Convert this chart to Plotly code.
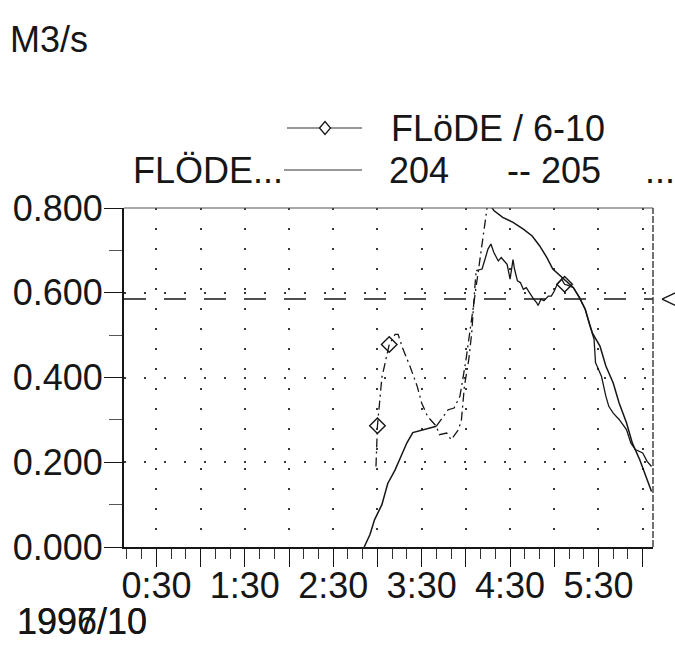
import pandas as pd
import plotly.graph_objects as go

DAY = "1996-10-06"

# Flow, series 204 (m3/s)
t_204 = ["2:51", "2:55", "2:58", "3:03", "3:07", "3:12", "3:16", "3:20", "3:24", "3:31",
         "3:40", "3:45", "3:48", "3:52", "3:56", "4:00", "4:03", "4:06", "4:10", "4:14",
         "4:15", "4:19", "4:25", "4:32", "4:39", "4:45", "4:50", "4:55", "4:59", "5:04",
         "5:08", "5:13", "5:17", "5:21", "5:24", "5:26", "5:31", "5:35", "5:40", "5:44",
         "5:49", "5:53", "5:58", "6:02", "6:06"]
q_204 = [0.000, 0.030, 0.064, 0.100, 0.150, 0.182, 0.214, 0.246, 0.270, 0.277,
         0.285, 0.308, 0.324, 0.328, 0.356, 0.440, 0.510, 0.590, 0.690, 0.800,
         0.815, 0.794, 0.778, 0.766, 0.750, 0.734, 0.711, 0.683, 0.656, 0.640,
         0.628, 0.612, 0.589, 0.561, 0.525, 0.504, 0.474, 0.427, 0.387, 0.340,
         0.293, 0.245, 0.206, 0.166, 0.131]

# Flow, series "FLöDE / 6-10" (m3/s)
t_610 = ["2:59", "3:00", "3:03", "3:08", "3:12", "3:14", "3:17", "3:22", "3:27", "3:30",
         "3:34", "3:40", "3:42", "3:47", "3:50", "3:55", "3:57", "3:59", "4:02", "4:04",
         "4:06", "4:07", "4:11", "4:13", "4:15", "4:17", "4:19", "4:22", "4:24", "4:26",
         "4:28", "4:30", "4:32", "4:33", "4:35", "4:37", "4:39", "4:41", "4:43", "4:46",
         "4:48", "4:49", "4:51", "4:53", "4:56", "4:58", "5:00", "5:02", "5:05", "5:07",
         "5:09", "5:13", "5:17", "5:21", "5:24", "5:26", "5:27", "5:28", "5:32", "5:35",
         "5:37", "5:40", "5:44", "5:49", "5:52", "5:55", "6:00", "6:03", "6:06"]
q_610 = [0.190, 0.286, 0.400, 0.478, 0.502, 0.502, 0.470, 0.427, 0.379, 0.340,
         0.308, 0.285, 0.265, 0.269, 0.253, 0.277, 0.300, 0.379, 0.443, 0.506,
         0.608, 0.652, 0.656, 0.679, 0.703, 0.715, 0.695, 0.675, 0.683, 0.675,
         0.667, 0.632, 0.678, 0.656, 0.628, 0.624, 0.608, 0.612, 0.600, 0.585,
         0.577, 0.570, 0.585, 0.581, 0.592, 0.592, 0.604, 0.620, 0.632, 0.620,
         0.618, 0.612, 0.589, 0.561, 0.525, 0.504, 0.490, 0.435, 0.403, 0.356,
         0.332, 0.316, 0.301, 0.277, 0.245, 0.230, 0.222, 0.202, 0.190]

# Samples of the 6-10 series drawn with a diamond
t_marks = ["3:00", "3:08", "5:07"]

# Limit flow (dashed line with arrow at the right)
q_limit = 0.585

# Axes
y_ticks = [0.0, 0.2, 0.4, 0.6, 0.8]
y_labels = ["0.000", "0.200", "0.400", "0.600", "0.800"]
x_ticks = ["0:30", "1:00", "1:30", "2:00", "2:30", "3:00", "3:30",
           "4:00", "4:30", "5:00", "5:30", "6:00"]
x_labels = ["0:30", "", "1:30", "", "2:30", "", "3:30", "", "4:30", "", "5:30", ""]
x_range = ["0:08", "6:07"]
y_range = [0.0, 0.8]

# Line-style breaks along each series
dash_end_610 = "4:07"
dash_span_204 = ("3:40", "4:15")

W, H = 675, 645
ML, MR, MT, MB = 124, 22, 208, 98
PW, PH = W - ML - MR, H - MT - MB

FONT = "Liberation Sans, Arial, sans-serif"
INK = "#161616"
FS = 36


def ts(t):
    h, m = t.split(":")
    return pd.Timestamp(f"{DAY} {int(h):02d}:{m}")


def part(times, vals, start=None, end=None):
    xs, ys = [], []
    for t, v in zip(times, vals):
        d = ts(t)
        if (start is None or d >= ts(start)) and (end is None or d <= ts(end)):
            xs.append(d)
            ys.append(v)
    return xs, ys


def px(x):
    return (x - ML) / PW


def py(y):
    return (H - MB - y) / PH


fig = go.Figure()

SOLID = dict(color=INK, width=1.5)
DASHDOT = dict(color=INK, width=1.3, dash="9px,4px,2px,4px")

# series 204
x, y = part(t_204, q_204, end=dash_span_204[0])
fig.add_trace(go.Scatter(x=x, y=y, mode="lines", line=SOLID, name="204"))
x, y = part(t_204, q_204, start=dash_span_204[0], end=dash_span_204[1])
fig.add_trace(go.Scatter(x=x, y=y, mode="lines", line=DASHDOT, name="204"))
x, y = part(t_204, q_204, start=dash_span_204[1])
fig.add_trace(go.Scatter(x=x, y=y, mode="lines", line=SOLID, name="204"))

# series 6-10
x, y = part(t_610, q_610, end=dash_end_610)
fig.add_trace(go.Scatter(x=x, y=y, mode="lines", line=DASHDOT, name="FLöDE / 6-10"))
x, y = part(t_610, q_610, start=dash_end_610)
fig.add_trace(go.Scatter(x=x, y=y, mode="lines", line=dict(color=INK, width=1.3),
                         name="FLöDE / 6-10"))

lookup = dict(zip(t_610, q_610))
fig.add_trace(go.Scatter(
    x=[ts(t) for t in t_marks], y=[lookup[t] for t in t_marks], mode="markers",
    marker=dict(symbol="diamond-open", size=12, color=INK, line=dict(width=1.4)),
    name="FLöDE / 6-10"))

shapes = []
# limit line
shapes.append(dict(type="line", xref="paper", yref="y", x0=0, x1=1, y0=q_limit, y1=q_limit,
                   line=dict(color=INK, width=1.5, dash="22px,18px"), layer="below"))
# arrow head for the limit, outside the right border
lp = q_limit / (y_range[1] - y_range[0])
dy = 8.5 / PH
shapes.append(dict(type="path", xref="paper", yref="paper",
                   path=f"M {px(662)},{lp} L {px(680)},{lp + dy} M {px(662)},{lp} L {px(680)},{lp - dy}",
                   line=dict(color=INK, width=1.3)))
# top and right frame
shapes.append(dict(type="line", xref="paper", yref="paper", x0=0, x1=1, y0=1, y1=1,
                   line=dict(color="#555", width=1.2)))
shapes.append(dict(type="line", xref="paper", yref="paper", x0=1, x1=1, y0=0, y1=1,
                   line=dict(color="#444", width=1.5, dash="7px,2px")))

# legend keys
r1, r2 = 128, 170
shapes.append(dict(type="line", xref="paper", yref="paper", x0=px(287), x1=px(362),
                   y0=py(r1), y1=py(r1), line=dict(color="#333", width=1.2)))
cx, hw, hh = px(325), 5.5 / PW, 6.5 / PH
shapes.append(dict(type="path", xref="paper", yref="paper",
                   path=f"M {cx - hw},{py(r1)} L {cx},{py(r1) + hh} L {cx + hw},{py(r1)} L {cx},{py(r1) - hh} Z",
                   fillcolor="white", line=dict(color=INK, width=1.3)))
shapes.append(dict(type="line", xref="paper", yref="paper", x0=px(284), x1=px(362),
                   y0=py(r2), y1=py(r2), line=dict(color="#333", width=1.2)))

ann = []


def text(s, x, y, anchor="left"):
    ann.append(dict(text=s, xref="paper", yref="paper", x=px(x), y=py(y),
                    xanchor=anchor, yanchor="middle", showarrow=False, borderpad=0,
                    font=dict(family=FONT, size=FS, color=INK)))


text("M3/s", 9, 40)
text("FLöDE / 6-10", 390, r1)
text("FLÖDE...", 284, r2, anchor="right")
text("204", 388, r2)
text("-- 205", 506, r2)
text("...", 644, r2)
# date line, year printed twice over itself
text("1996/10", 16, 621)
text("1997/10", 16, 621)

fig.update_layout(
    width=W, height=H, margin=dict(l=ML, r=MR, t=MT, b=MB, pad=0),
    paper_bgcolor="white", plot_bgcolor="white", showlegend=False,
    font=dict(family=FONT, size=FS, color=INK),
    shapes=shapes, annotations=ann,
    xaxis=dict(
        type="date", range=[ts(x_range[0]), ts(x_range[1])],
        tickmode="array", tickvals=[ts(t) for t in x_ticks], ticktext=x_labels,
        ticks="outside", ticklen=18, tickwidth=1.4, tickcolor=INK,
        ticklabelstandoff=-12,
        showline=True, linecolor=INK, linewidth=1.5,
        showgrid=True, gridcolor="#3a3a3a", gridwidth=1.5, griddash="2px,18px",
        zeroline=False, tickfont=dict(size=FS),
        minor=dict(dtick=600000, tick0=ts("0:00"), ticks="outside", ticklen=10,
                   tickwidth=1.2, tickcolor="#333", showgrid=False),
    ),
    yaxis=dict(
        range=y_range, tickmode="array", tickvals=y_ticks, ticktext=y_labels,
        ticks="outside", ticklen=18, tickwidth=1.4, tickcolor=INK,
        ticklabelstandoff=-6,
        showline=True, linecolor=INK, linewidth=2,
        showgrid=True, gridcolor="#3a3a3a", gridwidth=1.5, griddash="2px,18px",
        zeroline=False, tickfont=dict(size=FS),
        minor=dict(dtick=0.1, tick0=0, ticks="outside", ticklen=13,
                   tickwidth=1.2, tickcolor="#555", showgrid=False),
    ),
)

fig.write_html("out.html")
